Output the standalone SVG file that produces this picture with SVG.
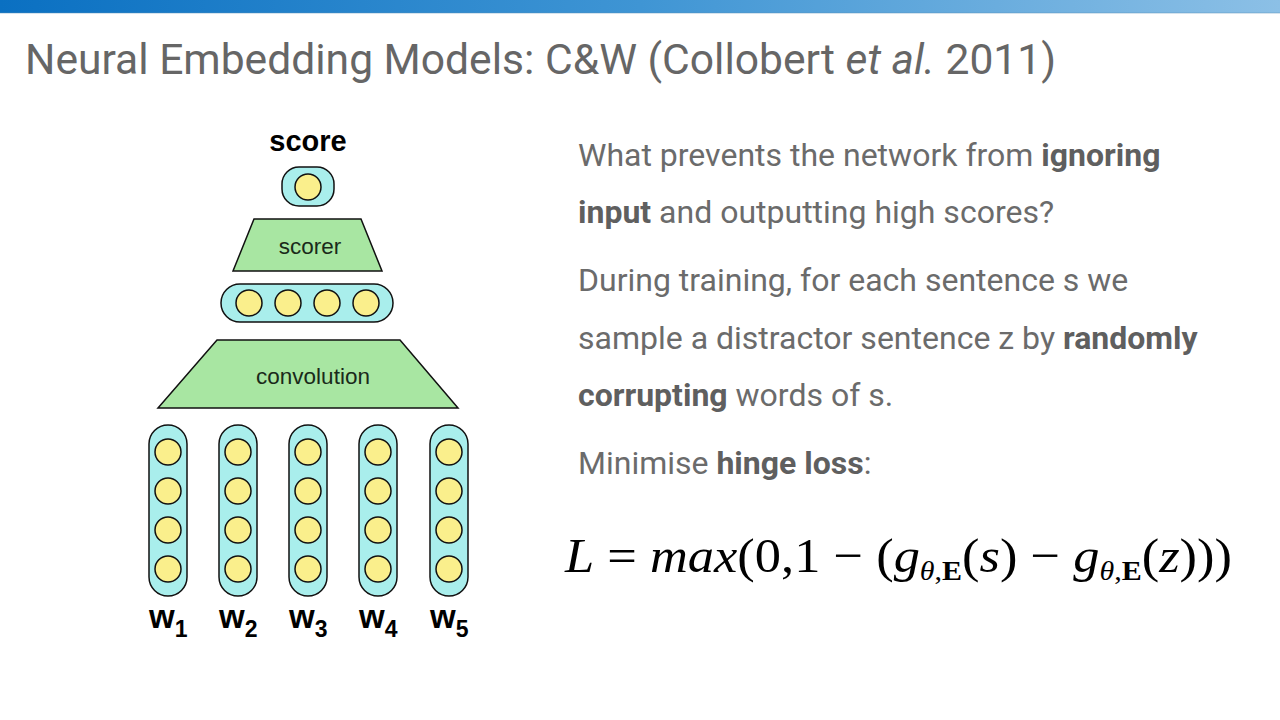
<svg xmlns="http://www.w3.org/2000/svg" width="1280" height="720" viewBox="0 0 1280 720">
<defs>
<linearGradient id="bar" x1="0" y1="0" x2="1" y2="0">
<stop offset="0" stop-color="#0a70c2"/>
<stop offset="0.5" stop-color="#3f95d4"/>
<stop offset="1" stop-color="#8cc0e6"/>
</linearGradient>
<style>
.title{font-family:Roboto,"Liberation Sans",sans-serif;font-size:42.6px;fill:#666666}
.body{font-family:Roboto,"Liberation Sans",sans-serif;font-size:32px;fill:#6b6b6b}
.b{font-weight:bold;fill:#5f5f5f}
.vec{fill:#a9eeec;stroke:#111;stroke-width:1.5}
.unit{fill:#faef8c;stroke:#111;stroke-width:1.5}
.layer{fill:#a8e6a2;stroke:#111;stroke-width:1.5}
.lbl{font-family:"Liberation Sans",Arial,sans-serif;fill:#1a2a1a;font-size:22.5px;text-anchor:middle}
.wl{font-family:"Liberation Sans",Arial,sans-serif;font-weight:bold;fill:#000;font-size:33px}
.math{font-family:"Liberation Serif","DejaVu Serif",serif;font-size:49px;fill:#000}
</style>
</defs>
<rect width="1280" height="720" fill="#ffffff"/>
<rect x="0" y="0" width="1280" height="13" fill="url(#bar)"/>
<rect x="0" y="12.5" width="1280" height="1" fill="#5a90b8" opacity="0.5"/>

<text class="title" x="25" y="74">Neural Embedding Models: C&amp;W (Collobert <tspan font-style="italic">et al.</tspan> 2011)</text>

<g id="text-block" class="body">
<text x="578" y="166">What prevents the network from <tspan class="b">ignoring</tspan></text>
<text x="578" y="223"><tspan class="b">input</tspan> and outputting high scores?</text>
<text x="578" y="291">During training, for each sentence s we</text>
<text x="578" y="349">sample a distractor sentence z by <tspan class="b">randomly</tspan></text>
<text x="578" y="406"><tspan class="b">corrupting</tspan> words of s.</text>
<text x="578" y="474">Minimise <tspan class="b">hinge loss</tspan>:</text>
</g>

<g id="formula">
<text class="math" x="565" y="572" textLength="667" lengthAdjust="spacingAndGlyphs"><tspan font-style="italic">L</tspan> = <tspan font-style="italic">max</tspan>(0,1 − (<tspan font-style="italic">g</tspan><tspan font-size="28" dy="8"><tspan font-style="italic">θ</tspan>,<tspan font-weight="bold">E</tspan></tspan><tspan dy="-8">(</tspan><tspan font-style="italic">s</tspan>) − <tspan font-style="italic">g</tspan><tspan font-size="28" dy="8"><tspan font-style="italic">θ</tspan>,<tspan font-weight="bold">E</tspan></tspan><tspan dy="-8">(</tspan><tspan font-style="italic">z</tspan>)))</text>
</g>

<g id="score-label">
<text x="308" y="151" font-family="Liberation Sans,Arial,sans-serif" font-weight="bold" font-size="29" text-anchor="middle" fill="#000">score</text>
</g>

<g id="score-node">
<rect class="vec" x="282" y="167" width="52" height="39" rx="17"/>
<circle class="unit" cx="308" cy="187" r="13"/>
</g>

<g id="scorer">
<polygon class="layer" points="254,219 361,219 382,271 233,271"/>
<text class="lbl" x="310" y="254">scorer</text>
</g>

<g id="hidden">
<rect class="vec" x="221" y="284" width="172" height="38" rx="19"/>
<circle class="unit" cx="249" cy="303" r="13"/>
<circle class="unit" cx="288" cy="303" r="13"/>
<circle class="unit" cx="327" cy="303" r="13"/>
<circle class="unit" cx="366" cy="303" r="13"/>
</g>

<g id="convolution">
<polygon class="layer" points="217,340 400,340 458,408 158,408"/>
<text class="lbl" x="313" y="384">convolution</text>
</g>

<g id="w1">
<rect class="vec" x="149" y="425" width="38" height="171" rx="19"/>
<circle class="unit" cx="168" cy="452" r="13"/><circle class="unit" cx="168" cy="491" r="13"/><circle class="unit" cx="168" cy="530" r="13"/><circle class="unit" cx="168" cy="569" r="13"/>
<text class="wl" x="149" y="628">w<tspan font-size="23" dy="9">1</tspan></text>
</g>
<g id="w2">
<rect class="vec" x="219" y="425" width="38" height="171" rx="19"/>
<circle class="unit" cx="238" cy="452" r="13"/><circle class="unit" cx="238" cy="491" r="13"/><circle class="unit" cx="238" cy="530" r="13"/><circle class="unit" cx="238" cy="569" r="13"/>
<text class="wl" x="219" y="628">w<tspan font-size="23" dy="9">2</tspan></text>
</g>
<g id="w3">
<rect class="vec" x="289" y="425" width="38" height="171" rx="19"/>
<circle class="unit" cx="308" cy="452" r="13"/><circle class="unit" cx="308" cy="491" r="13"/><circle class="unit" cx="308" cy="530" r="13"/><circle class="unit" cx="308" cy="569" r="13"/>
<text class="wl" x="289" y="628">w<tspan font-size="23" dy="9">3</tspan></text>
</g>
<g id="w4">
<rect class="vec" x="359" y="425" width="38" height="171" rx="19"/>
<circle class="unit" cx="378" cy="452" r="13"/><circle class="unit" cx="378" cy="491" r="13"/><circle class="unit" cx="378" cy="530" r="13"/><circle class="unit" cx="378" cy="569" r="13"/>
<text class="wl" x="359" y="628">w<tspan font-size="23" dy="9">4</tspan></text>
</g>
<g id="w5">
<rect class="vec" x="430" y="425" width="38" height="171" rx="19"/>
<circle class="unit" cx="449" cy="452" r="13"/><circle class="unit" cx="449" cy="491" r="13"/><circle class="unit" cx="449" cy="530" r="13"/><circle class="unit" cx="449" cy="569" r="13"/>
<text class="wl" x="430" y="628">w<tspan font-size="23" dy="9">5</tspan></text>
</g>

<g id="connectors"></g>
</svg>
